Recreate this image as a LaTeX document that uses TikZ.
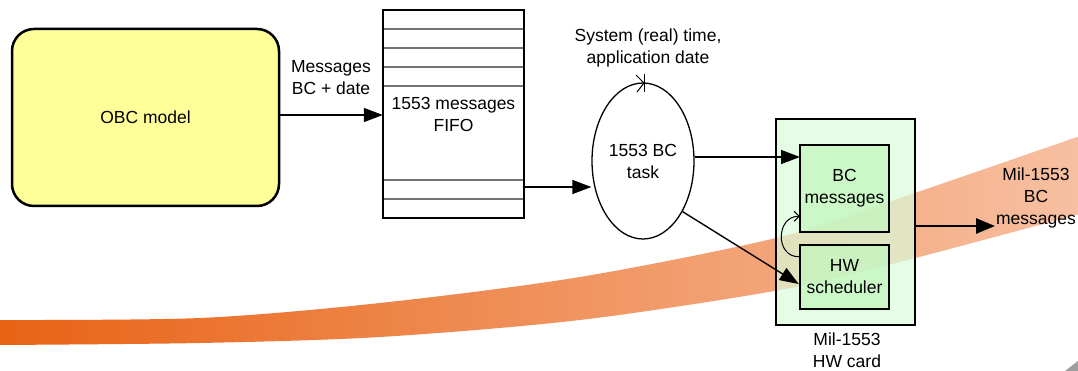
\documentclass[tikz,border=0pt]{standalone}
\usepackage{fontspec}
\setmainfont{Liberation Sans}
\usetikzlibrary{arrows.meta,shapes.geometric,calc}
\definecolor{obcyellow}{RGB}{255,255,153}
\definecolor{cardgreen}{RGB}{218,252,218}
\definecolor{innergreen}{RGB}{196,246,192}
\definecolor{orangeL}{RGB}{232,98,20}
\definecolor{orangeR}{RGB}{247,192,162}
\tikzset{
  lbl/.style={align=center,font=\fontsize{17.5}{22}\selectfont,inner sep=0pt},
  boxthick/.style={draw,line width=2.5pt,inner sep=0pt,lbl},
  conn/.style={line width=1.4pt,-{Triangle[length=19pt,width=14pt]}},
  fifoline/.style={draw=black!55,line width=1.1pt}
}
\begin{document}
\begin{tikzpicture}[x=1pt,y=-1pt]
\useasboundingbox (0,0) rectangle (1078,371);
% orange swoosh
\shade[left color=orangeL,right color=orangeR]
  plot[smooth] coordinates {(-2,320) (200,318) (380,303) (580,277) (780,237) (900,198) (1080,136)}
  -- plot[smooth] coordinates {(1080,214) (900,262) (780,290) (580,320) (380,337) (200,343) (-2,345)}
  -- cycle;
\fill[black!38] (1065,371) -- (1078,361) -- (1078,371) -- cycle;

% OBC model
\node[boxthick,fill=obcyellow,rounded corners=22pt,minimum width=267pt,minimum height=177pt] (obc) at (145.5,117.5) {OBC model};

% FIFO
\node[lbl,minimum width=141pt,minimum height=208pt] (fifo) at (453.5,114) {1553 messages\\FIFO};
\foreach \yy in {29,48,67,86,180,199}
  \draw[fifoline] (fifo.west |- 0,\yy) -- (fifo.east |- 0,\yy);
\draw[line width=2.5pt] (fifo.south west) rectangle (fifo.north east);

% BC task ellipse
\node[ellipse,draw,line width=1.3pt,lbl,minimum width=102pt,minimum height=156pt] (task) at (643,161) {1553 BC\\task};
\coordinate (tick) at (643,83);
\draw[line width=1pt] ($(tick)+(-7,-8)$) -- ($(tick)+(1,0)$) -- ($(tick)+(-6,9)$);
\draw[line width=1pt] ($(tick)+(1,-9)$) -- ($(tick)+(1,9)$);
\node[lbl] (timelbl) at (648,47.5) {System (real) time,\\application date};

% HW card
\node[boxthick,fill=cardgreen,fill opacity=0.7,text opacity=1,minimum width=139pt,minimum height=206pt] (card) at (845.5,222) {};
\node[boxthick,fill=innergreen,fill opacity=0.75,text opacity=1,minimum width=89pt,minimum height=87pt] (bcm) at (844.5,188.5) {BC\\messages};
\node[boxthick,fill=innergreen,fill opacity=0.75,text opacity=1,minimum width=89pt,minimum height=64pt] (hws) at (844.5,277) {HW\\scheduler};
\node[lbl] (cardlbl) at (847,350) {Mil-1553\\HW card};

% connectors
\node[lbl] (msglbl) at (331,77.5) {Messages\\BC + date};
\draw[conn] (obc.east |- 0,115) -- (fifo.west |- 0,115);
\coordinate (fpt) at (0,187);
\draw[conn] (fifo.east |- fpt) -- (task.west |- fpt);
\coordinate (bcpt) at (800,157);
\draw[conn] (task.east |- bcpt) -- (bcpt);
\draw[conn] (task.-52) -- ($(hws.west)+(0,7)$);
\draw[line width=1pt,-{Straight Barb[length=5pt,width=10pt]}] ($(hws.north west)+(0,13)$) to[out=180,in=180,looseness=1.5] ($(bcm.south west)+(1,-17)$);
\coordinate (outend) at (995,226);
\draw[line width=2.6pt,-{Triangle[length=19pt,width=15pt]}] (card.east |- outend) -- (outend);
\node[lbl] (outlbl) at (1036,198) {Mil-1553\\BC\\messages};
\end{tikzpicture}
\end{document}
